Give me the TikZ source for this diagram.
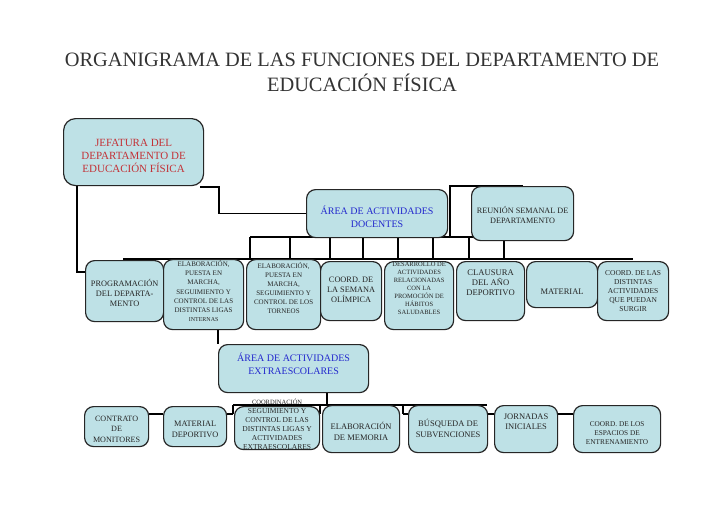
\documentclass[tikz,border=0pt]{standalone}
\usepackage{fontspec}
\setmainfont{Liberation Serif}
\usetikzlibrary{calc,backgrounds}
\definecolor{boxfill}{RGB}{190,225,230}
\definecolor{jefred}{RGB}{195,50,55}
\definecolor{areablue}{RGB}{35,40,205}
\newcommand\obox[8]{%
  \node[bx, minimum width={#4-#2}, minimum height={#5-#3}] (#1) at (#2,#3) {};
  \node[tx, #6] (#1-t) at ($(#1.center)+(0,#7)$) {#8};}
\begin{document}
\begin{tikzpicture}[x=1pt,y=-1pt,
  bx/.style={draw=black!85, line width=1.2pt, rounded corners=9pt, fill=boxfill, inner sep=0pt, anchor=north west},
  tx/.style={align=center, inner sep=0pt, text=black!85},
  cn/.style={line width=1.6pt, black}]
\useasboundingbox (0,0) rectangle (728,515);

\node[font=\fontsize{20.4}{25}\selectfont, text=black!80, align=center, inner sep=0pt] (title) at (362,72.5)
  {ORGANIGRAMA DE LAS FUNCIONES DEL DEPARTAMENTO DE\\EDUCACIÓN FÍSICA};

\begin{scope}[bx/.append style={rounded corners=12pt}]
\obox{jef}{63}{118}{203}{185}{font=\fontsize{11}{13}\selectfont, text=jefred}{3.5}{JEFATURA DEL\\DEPARTAMENTO DE\\EDUCACIÓN FÍSICA}
\end{scope}
\obox{docentes}{306}{189}{447}{237}{font=\fontsize{10}{12.5}\selectfont, text=areablue}{3}{ÁREA DE ACTIVIDADES\\DOCENTES}
\obox{reunion}{471}{186}{573}{240}{font=\fontsize{8.2}{9.5}\selectfont}{1.5}{REUNIÓN SEMANAL DE\\DEPARTAMENTO}

\obox{prog}{85}{260}{163}{321}{font=\fontsize{8.3}{10}\selectfont}{1.5}{PROGRAMACIÓN\\DEL DEPARTA-\\MENTO}
\obox{ligas}{163}{259}{243}{329}{font=\fontsize{7}{9.2}\selectfont}{-3.5}{ELABORACIÓN,\\PUESTA EN\\MARCHA,\\SEGUIMIENTO Y\\CONTROL DE LAS\\DISTINTAS LIGAS\\{\fontsize{6}{9.2}\selectfont INTERNAS}}
\obox{torneos}{246}{259}{320}{329}{font=\fontsize{7}{9}\selectfont}{-6.5}{ELABORACIÓN,\\PUESTA EN\\MARCHA,\\SEGUIMIENTO Y\\CONTROL DE LOS\\TORNEOS}
\obox{olimp}{320}{261}{381}{320}{font=\fontsize{8.3}{9.7}\selectfont}{-1.5}{COORD. DE\\LA SEMANA\\OLÍMPICA}
\obox{desarrollo}{384}{261}{453}{329}{font=\fontsize{6.5}{8}\selectfont}{-7.5}{DESARROLLO DE\\ACTIVIDADES\\RELACIONADAS\\CON LA\\PROMOCIÓN DE\\HÁBITOS\\SALUDABLES}
\obox{clausura}{456}{261}{524}{320}{font=\fontsize{8.6}{10}\selectfont}{-8}{CLAUSURA\\DEL AÑO\\DEPORTIVO}
\obox{material}{526}{261}{597}{307}{font=\fontsize{8.5}{10}\selectfont}{7}{MATERIAL}
\obox{coordact}{597}{261}{668}{320}{font=\fontsize{7.5}{8.8}\selectfont}{0}{COORD. DE LAS\\DISTINTAS\\ACTIVIDADES\\QUE PUEDAN\\SURGIR}

\obox{extra}{218}{344}{368}{392}{font=\fontsize{10}{12.5}\selectfont, text=areablue}{-5}{ÁREA DE ACTIVIDADES\\EXTRAESCOLARES}

\obox{contrato}{84}{406}{148}{446}{font=\fontsize{8.1}{10.5}\selectfont}{2.5}{CONTRATO\\DE\\MONITORES}
\obox{matdep}{163}{406}{226}{446}{font=\fontsize{8.3}{11}\selectfont}{2.5}{MATERIAL\\DEPORTIVO}
\obox{coordina}{234}{406}{319}{449}{font=\fontsize{7.5}{9}\selectfont}{-4}{{\fontsize{6.5}{9}\selectfont COORDINACIÓN}\\SEGUIMIENTO Y\\CONTROL DE LAS\\DISTINTAS LIGAS Y\\ACTIVIDADES\\EXTRAESCOLARES}
\obox{memoria}{322}{405}{399}{452}{font=\fontsize{8.5}{11}\selectfont}{2}{ELABORACIÓN\\DE MEMORIA}
\obox{busqueda}{408}{405}{487}{452}{font=\fontsize{8.5}{10.5}\selectfont}{-0.5}{BÚSQUEDA DE\\SUBVENCIONES}
\obox{jornadas}{494}{405}{557}{452}{font=\fontsize{8.5}{10.5}\selectfont}{-7.5}{JORNADAS\\INICIALES}
\obox{espacios}{573}{405}{660}{452}{font=\fontsize{7.3}{9}\selectfont}{4.5}{COORD. DE LOS\\ESPACIOS DE\\ENTRENAMIENTO}

\begin{scope}[on background layer]
  \fill[white] (0,0) rectangle (728,515);
  \draw[cn] ($(jef.south west)+(14,0)$) |- ($(prog.north west)+(0,12)$);
  \draw[cn] ($(jef.south east)+(-4,1)$) -- ++(19,0) |- (docentes.west);
  \draw[cn] ($(docentes.south east)+(2,0)$) |- (reunion.north);
  \coordinate (busL) at (250,237);
  \coordinate (busR) at (504,237);
  \draw[cn] (busL) -- (busR);
  \coordinate (rowL) at (123,259);
  \coordinate (rowR) at (633,259);
  \draw[cn] (rowL) -- (rowR);
  \foreach \x in {250,290,330,363,398,433,469,504}
    \draw[cn] (\x,237) -- (\x,259);
  \draw[cn] (ligas.south -| extra.north west) -- (extra.north west);
  \coordinate (eb) at (327,405);
  \draw[cn] (extra.south -| eb) -- (eb);
  \draw[cn] (233,405) -- (487,405);
  \foreach \x in {233,320,403}
    \draw[cn] (\x,405) -- (\x,414);
  \coordinate (lk) at (0,414);
  \draw[cn] (contrato.east |- lk) -- (matdep.west |- lk);
  \draw[cn] (matdep.east |- lk) -- (233,414);
  \draw[cn] (403,414) -- (busqueda.west |- lk);
  \draw[cn] (busqueda.east |- lk) -- (jornadas.west |- lk);
  \draw[cn] (jornadas.east |- lk) -- (espacios.west |- lk);
\end{scope}
\end{tikzpicture}
\end{document}
